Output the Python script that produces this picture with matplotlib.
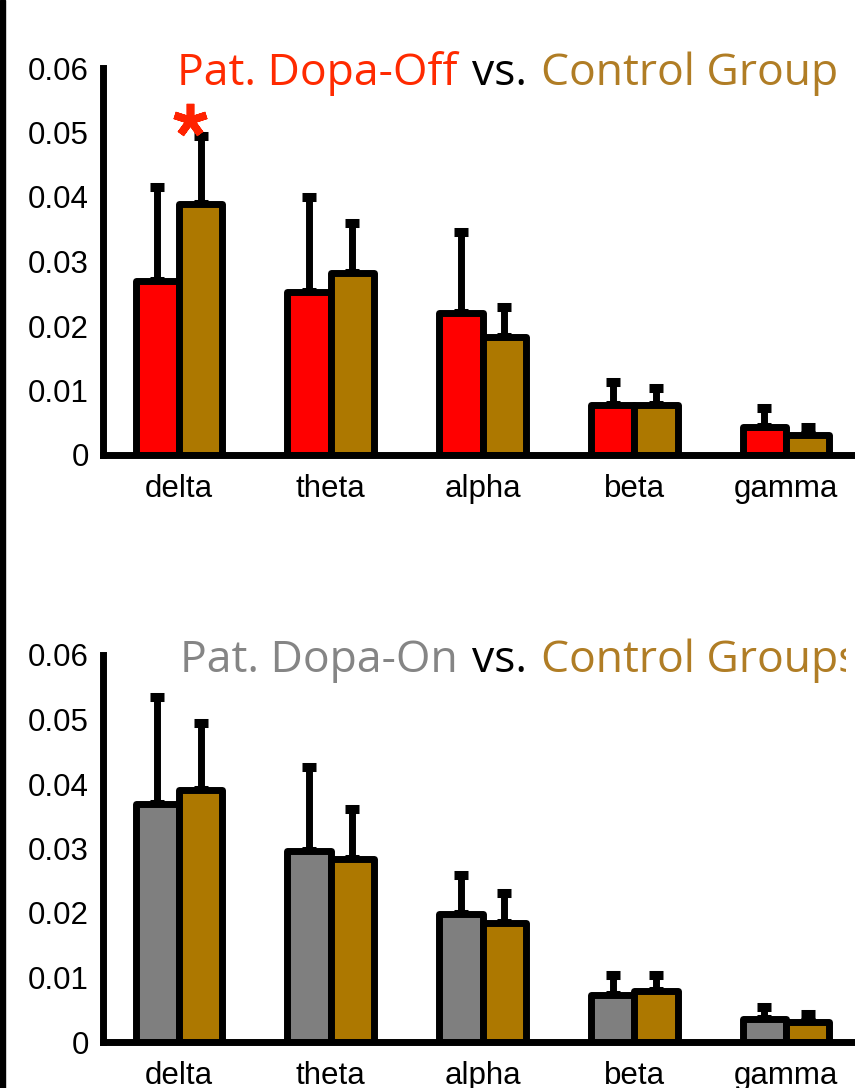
import numpy as np
import matplotlib
matplotlib.use('Agg')
import matplotlib.pyplot as plt
from matplotlib.transforms import Bbox, TransformedBbox

# frequency bands
bands = ['delta', 'theta', 'alpha', 'beta', 'gamma']

# top panel: patients Dopa-Off vs control
off_mean = [0.0270, 0.0253, 0.0220, 0.0078, 0.0043]
off_err = [0.0146, 0.0147, 0.0126, 0.0035, 0.0030]
ctrl_mean = [0.0389, 0.0282, 0.0183, 0.0078, 0.0031]
ctrl_err = [0.0106, 0.0078, 0.0046, 0.0026, 0.0012]

# bottom panel: patients Dopa-On vs control
on_mean = [0.0369, 0.0296, 0.0198, 0.0073, 0.0036]
on_err = [0.0166, 0.0130, 0.0061, 0.0031, 0.0018]
ctrl2_mean = [0.0391, 0.0284, 0.0184, 0.0079, 0.0031]
ctrl2_err = [0.0104, 0.0077, 0.0047, 0.0025, 0.0012]

yticks = [0, 0.01, 0.02, 0.03, 0.04, 0.05, 0.06]
ytick_labels = ['0', '0.01', '0.02', '0.03', '0.04', '0.05', '0.06']

RED = '#FF0000'
BROWN = '#AD7800'
GRAY = '#7F7F7F'
T_RED = '#FF2A00'
T_BROWN = '#B07D25'
T_GRAY = '#858585'

W, H = 855, 1088
fig = plt.figure(figsize=(W / 100, H / 100), dpi=100)
fig.patch.set_facecolor('white')

ax1 = fig.add_axes([103 / W, 1 - 455 / H, (862 - 103) / W, (455 - 68) / H])
ax2 = fig.add_axes([103 / W, 1 - 1042 / H, (862 - 103) / W, (1042 - 655) / H])

x = np.arange(1, len(bands) + 1)
bw = 0.285


def draw_panel(ax, m1, e1, c1, m2, e2, c2):
    for xs, m, e, c in [(x - bw / 2, m1, e1, c1), (x + bw / 2, m2, e2, c2)]:
        ax.errorbar(xs, m, yerr=[np.zeros(len(m)), e], fmt='none',
                    ecolor='k', elinewidth=5, capsize=5, capthick=6.5,
                    zorder=1)
        ax.bar(xs, m, width=bw, color=c, edgecolor='k', linewidth=5,
               joinstyle='round', zorder=2)
    ax.set_xlim(0.5, 5.5)
    ax.set_ylim(0, 0.06)
    ax.set_xticks(x)
    ax.set_xticklabels(bands)
    ax.set_yticks(yticks)
    ax.set_yticklabels(ytick_labels)
    for s in ['top', 'right']:
        ax.spines[s].set_visible(False)
    for s in ['left', 'bottom']:
        ax.spines[s].set_linewidth(5)
        ax.spines[s].set_zorder(3)
    ax.tick_params(axis='both', length=0, labelsize=22.5)
    ax.tick_params(axis='x', pad=14)
    ax.tick_params(axis='y', pad=10)
    for lab in ax.get_xticklabels() + ax.get_yticklabels():
        lab.set_fontfamily('Liberation Sans')


draw_panel(ax1, off_mean, off_err, RED, ctrl_mean, ctrl_err, BROWN)
draw_panel(ax2, on_mean, on_err, GRAY, ctrl2_mean, ctrl2_err, BROWN)

# significance star
ax1.plot([1.07], [0.052], marker=(5, 2, 0), markersize=24, mew=5.5,
         color='#FF2200', zorder=4, clip_on=False)

# titles built from coloured pieces
renderer = fig.canvas.get_renderer()


def colored_title(pieces, x0, ybase, size, clip_x=None):
    xp = x0
    for txt, col in pieces:
        t = fig.text(xp / W, 1 - ybase / H, txt, color=col, fontsize=size,
                     family='Open Sans', ha='left', va='baseline')
        if clip_x is not None:
            t.set_clip_box(TransformedBbox(Bbox([[0, 0], [clip_x / W, 1]]),
                                           fig.transFigure))
            t.set_clip_on(True)
        ext = t.get_window_extent(renderer)
        xp = ext.x1 + 14


colored_title([('Pat. Dopa-Off', T_RED), ('vs.', 'k'),
               ('Control Group', T_BROWN)], 177, 85, 32)
colored_title([('Pat. Dopa-On', T_GRAY), ('vs.', 'k'),
               ('Control Groups', T_BROWN)], 180, 672, 32, clip_x=846)

# black border line on the left edge
fig.add_artist(plt.Rectangle((0, 0), 5 / W, 1, transform=fig.transFigure,
                             color='k'))

fig.savefig('out.png', dpi=100)
